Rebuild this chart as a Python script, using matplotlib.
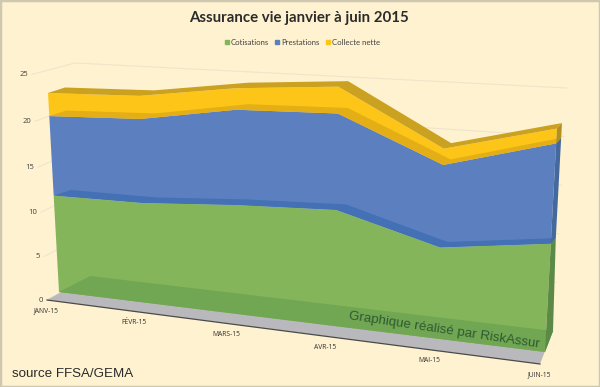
import matplotlib
matplotlib.use('Agg')
import matplotlib.pyplot as plt
from matplotlib.lines import Line2D
from matplotlib.patches import Rectangle
import numpy as np

months = ['JANV-15', 'FÉVR-15', 'MARS-15', 'AVR-15', 'MAI-15', 'JUIN-15']
cotisations = [11.1, 10.8, 11.15, 11.25, 8.4, 9.5]
prestations = [9.15, 9.1, 9.75, 9.35, 7.6, 8.8]
collecte = [2.65, 2.5, 2.2, 2.6, 1.5, 1.3]
yticks = [0, 5, 10, 15, 20, 25]

BG = '#FEF2D0'
GREEN, GREEN_DARK, GREEN_SIDE = '#85B55B', '#71A652', '#5A8A45'
BLUE, BLUE_DARK, BLUE_SIDE = '#5C80BF', '#4470B6', '#44699F'
YELLOW, YELLOW_MID, YELLOW_TOP, YELLOW_SIDE = '#FEC519', '#E4AE16', '#CBA120', '#B48F20'


# Fake 3D: month index + value + depth to picture position
def front(i, v):
    u = np.asarray(i) / 5.0
    f = 0.86 * u + 0.14 * u ** 2
    x = 59 + 486 * f + (-0.48 + 1.09 * u) * v
    y = 292 + 60 * f - (8.69 + 2.71 * u) * v
    return x, y


def top_back(i, v):
    u = np.asarray(i) / 5.0
    x, y = front(i, v)
    return x + (17 - 12 * u), y - 5.5


def floor_back(i):
    u = np.asarray(i) / 5.0
    x, y = front(i, 0)
    return x + (31 - 23 * u), y - 16 - 5 * u


def floor_front(i):
    u = np.asarray(i) / 5.0
    x, y = front(i, 0)
    return x - 12 + 7 * u, y + 8 + 4 * u


def wall_left(v):
    return 47 - 0.6 * v, 300 - 8.6 * v - 0.017 * v ** 2


def wall_corner(v):
    return 90 - 0.6 * v, 276 - 8.52 * v


def wall_right(v):
    return 553 + 0.56 * v, 331 - 9.72 * v


def band(ax, lower, upper, color, z):
    xs = np.concatenate([lower[0], upper[0][::-1]])
    ys = np.concatenate([lower[1], upper[1][::-1]])
    ax.fill(xs, ys, color=color, lw=0, zorder=z)


idx = np.arange(len(months))
zero = np.zeros(len(months))
s1 = np.array(cotisations)
s2 = s1 + np.array(prestations)
s3 = s2 + np.array(collecte)

fig = plt.figure(figsize=(6, 3.87), dpi=100, facecolor=BG)
ax = fig.add_axes([0, 0, 1, 1])
ax.set_xlim(0, 600)
ax.set_ylim(387, 0)
ax.axis('off')

ax.add_patch(Rectangle((0, 0), 600, 387, fill=False, ec='#CFC7B0', lw=2.5, zorder=20))

# walls
for t in yticks:
    p0, p1, p2 = wall_left(t), wall_corner(t), wall_right(t)
    ax.plot([p0[0], p1[0], p2[0]], [p0[1], p1[1], p2[1]], color='#EFE4CC', lw=0.8, zorder=1)
    ax.text(p0[0] - 4, p0[1], str(t), ha='right', va='center', fontsize=5.5,
            family='Open Sans', color='#404040', zorder=10)

# floor
fb, ff = floor_back(idx), floor_front(idx)
band(ax, ff, fb, '#B9B9BD', 2)
ax.plot(ff[0], ff[1], color='#4A4A48', lw=0.9, zorder=3)

# front faces and the top surfaces seen through them
band(ax, front(idx, s2), front(idx, s3), YELLOW, 4)
band(ax, front(idx, s2), top_back(idx, s2), YELLOW_MID, 5)
band(ax, front(idx, s3), top_back(idx, s3), YELLOW_TOP, 5)
band(ax, front(idx, s1), front(idx, s2), BLUE, 4)
band(ax, front(idx, s1), top_back(idx, s1), BLUE_DARK, 5)
band(ax, front(idx, zero), front(idx, s1), GREEN, 4)
band(ax, front(idx, zero), fb, GREEN_DARK, 5)

# right side of the block
last = idx[-1]
side = [(floor_back(last), front(last, 0), front(last, s1[-1]), top_back(last, s1[-1]), GREEN_SIDE),
        (top_back(last, s1[-1]), front(last, s1[-1]), front(last, s2[-1]), top_back(last, s2[-1]), BLUE_SIDE),
        (top_back(last, s2[-1]), front(last, s2[-1]), front(last, s3[-1]), top_back(last, s3[-1]), YELLOW_SIDE)]
for a, b, c, d, col in side:
    ax.fill([a[0], b[0], c[0], d[0]], [a[1], b[1], c[1], d[1]], color=col, lw=0, zorder=6)

for i, m in zip(idx, months):
    x, y = floor_front(i)
    ax.text(x - 1, y + 11, m, ha='center', va='center', fontsize=4.9,
            family='Open Sans', color='#303030', zorder=10)

ax.text(299, 18, 'Assurance vie janvier à juin 2015', ha='center', va='center',
        fontsize=10.8, fontweight='bold', family='Lato', color='#2B2B2B')

handles = [Line2D([], [], ls='', marker='s', ms=2.6, color=c) for c in (GREEN, BLUE, YELLOW)]
ax.legend(handles, ['Cotisations', 'Prestations', 'Collecte nette'], ncol=3, frameon=False,
          loc='center', bbox_to_anchor=(0.503, 0.891), prop={'family': 'Lato', 'size': 5.6},
          labelcolor='#404040', handlelength=0.9, handletextpad=0.1, columnspacing=0.6)

ax.text(12, 374, 'source FFSA/GEMA', ha='left', va='center', fontsize=9.6,
        family='Liberation Sans', color='#2A2A2A', zorder=10)
ax.text(349, 316, 'Graphique réalisé par RiskAssur', ha='left', va='center', fontsize=9.6,
        family='Liberation Sans', color='#2F5A33', rotation=-8.5, rotation_mode='anchor', zorder=10)

fig.savefig('out.png', dpi=100, facecolor=BG)
